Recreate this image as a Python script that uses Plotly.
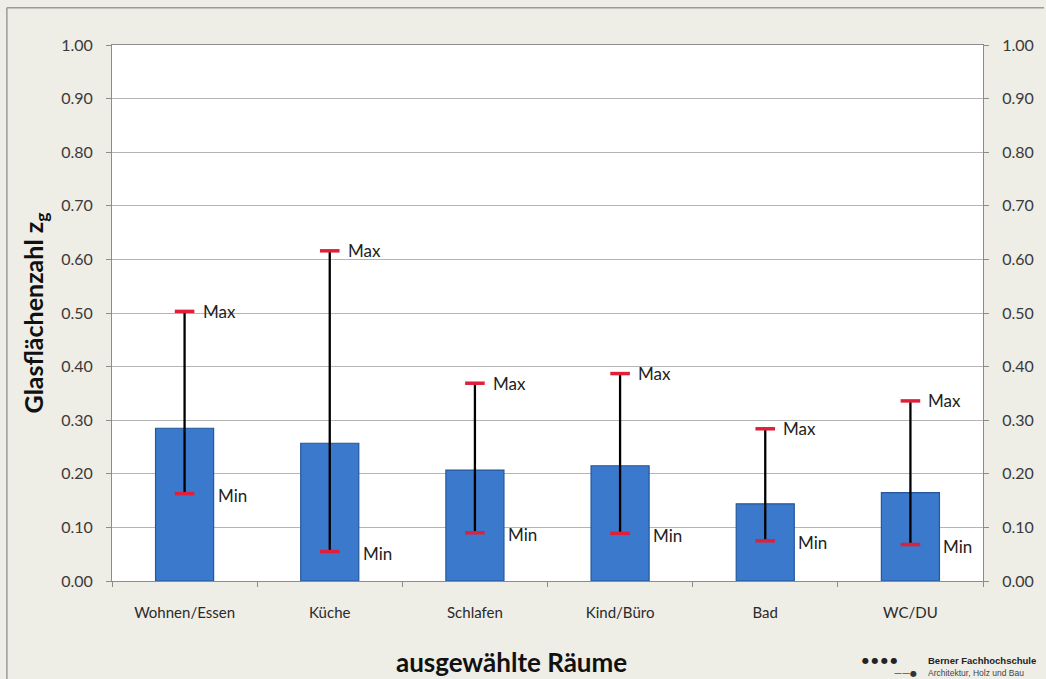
import plotly.graph_objects as go

categories = ["Wohnen/Essen", "Küche", "Schlafen", "Kind/Büro", "Bad", "WC/DU"]
mean_values = [0.285, 0.257, 0.207, 0.215, 0.144, 0.165]
max_values = [0.503, 0.616, 0.369, 0.387, 0.284, 0.336]
min_values = [0.163, 0.055, 0.090, 0.089, 0.075, 0.068]
y_ticks = [0.0, 0.1, 0.2, 0.3, 0.4, 0.5, 0.6, 0.7, 0.8, 0.9, 1.0]
y_tick_labels = [f"{v:.2f}" for v in y_ticks]

FONT = "Lato, 'Open Sans', sans-serif"
TXT = "#3a3a3a"
RED = "#E0203A"

fig = go.Figure()

fig.add_trace(go.Bar(
    x=categories, y=mean_values,
    marker=dict(color="#3A79CB", line=dict(color="#24579B", width=1.2)),
    width=0.4, showlegend=False, hoverinfo="y",
))

# vertical range lines
lx, ly = [], []
for c, lo, hi in zip(categories, min_values, max_values):
    lx += [c, c, None]
    ly += [lo, hi, None]
fig.add_trace(go.Scatter(x=lx, y=ly, mode="lines",
                         line=dict(color="black", width=2.3),
                         showlegend=False, hoverinfo="skip"))

# red caps
fig.add_trace(go.Scatter(
    x=categories + categories, y=max_values + min_values, mode="markers",
    marker=dict(symbol="line-ew-open", size=14, color=RED, line=dict(color=RED, width=3.5)),
    showlegend=False, hoverinfo="y"))

# dummy trace for right axis
fig.add_trace(go.Scatter(x=categories, y=mean_values, yaxis="y2", mode="markers",
                         marker=dict(opacity=0), showlegend=False, hoverinfo="skip"))

annotations = []
for c, hi in zip(categories, max_values):
    annotations.append(dict(x=c, y=hi, text="Max", showarrow=False, xanchor="left",
                            yanchor="middle", xshift=16, yshift=0,
                            font=dict(family=FONT, size=17, color="#222")))
for c, lo in zip(categories, min_values):
    annotations.append(dict(x=c, y=lo, text="Min", showarrow=False, xanchor="left",
                            yanchor="middle", xshift=31, yshift=-2,
                            font=dict(family=FONT, size=17, color="#222")))

# x-axis title (placed left of centre like the reference)
annotations.append(dict(xref="paper", yref="paper", x=0.459, y=-0.151, xanchor="center",
                        yanchor="middle", showarrow=False,
                        text="<b>ausgewählte Räume</b>",
                        font=dict(family=FONT, size=26, color="#111")))

# logo text
annotations.append(dict(xref="paper", yref="paper", x=0.934, y=-0.149, xanchor="left",
                        yanchor="middle", showarrow=False,
                        text="<b>Berner Fachhochschule</b>",
                        font=dict(family="Liberation Sans, Arial", size=9.5, color="#222")))
annotations.append(dict(xref="paper", yref="paper", x=0.934, y=-0.172, xanchor="left",
                        yanchor="middle", showarrow=False,
                        text="Architektur, Holz und Bau",
                        font=dict(family="Liberation Sans, Arial", size=8.5, color="#444")))
annotations.append(dict(xref="paper", yref="paper", x=0.905, y=-0.149, xanchor="right",
                        yanchor="middle", showarrow=False,
                        text="● ● ● ●",
                        font=dict(family="DejaVu Sans", size=8, color="#222")))
annotations.append(dict(xref="paper", yref="paper", x=0.926, y=-0.172, xanchor="right",
                        yanchor="middle", showarrow=False,
                        text="——●",
                        font=dict(family="DejaVu Sans", size=8, color="#333")))

fig.update_layout(
    width=1046, height=679,
    margin=dict(l=112, r=56, t=45, b=98),
    paper_bgcolor="#EEEDE6",
    plot_bgcolor="white",
    bargap=0.6,
    font=dict(family=FONT, color=TXT, size=14),
    xaxis=dict(
        categoryorder="array", categoryarray=categories,
        showline=True, linecolor="#8c8c8c", linewidth=1, mirror=True,
        ticks="outside", tickson="boundaries", ticklen=5, tickcolor="#8c8c8c",
        tickfont=dict(family=FONT, size=15, color="#2a2a2a"),
        ticklabelstandoff=18,
        showgrid=False,
    ),
    yaxis=dict(
        range=[0, 1], tickvals=y_ticks, ticktext=y_tick_labels,
        showline=True, linecolor="#8c8c8c", linewidth=1,
        ticks="outside", ticklen=5, tickcolor="#8c8c8c",
        tickfont=dict(family=FONT, size=16, color=TXT),
        ticklabelstandoff=10,
        showgrid=True, gridcolor="#B5B5B5", gridwidth=1,
        zeroline=False,
        title=dict(text="<b>Glasflächenzahl z<sub>g</sub></b>", standoff=10,
                   font=dict(family=FONT, size=25, color="#111")),
    ),
    yaxis2=dict(
        range=[0, 1], tickvals=y_ticks, ticktext=y_tick_labels,
        overlaying="y", side="right",
        showline=True, linecolor="#8c8c8c", linewidth=1,
        ticks="outside", ticklen=5, tickcolor="#8c8c8c",
        tickfont=dict(family=FONT, size=16, color=TXT),
        ticklabelstandoff=10,
        showgrid=False, zeroline=False,
    ),
    annotations=annotations,
    shapes=[
        dict(type="line", xref="paper", yref="paper", x0=-0.1207, x1=1.07, y0=1.0695, y1=1.0695,
             line=dict(color="#9a9a9a", width=1.5)),
        dict(type="line", xref="paper", yref="paper", x0=-0.1207, x1=-0.1207, y0=1.0695, y1=-0.2,
             line=dict(color="#9a9a9a", width=1.5)),
    ],
)

fig.write_html("out.html", config={"displayModeBar": False},
               post_script="document.body.style.margin='0';document.body.style.background='#EEEDE6';")
